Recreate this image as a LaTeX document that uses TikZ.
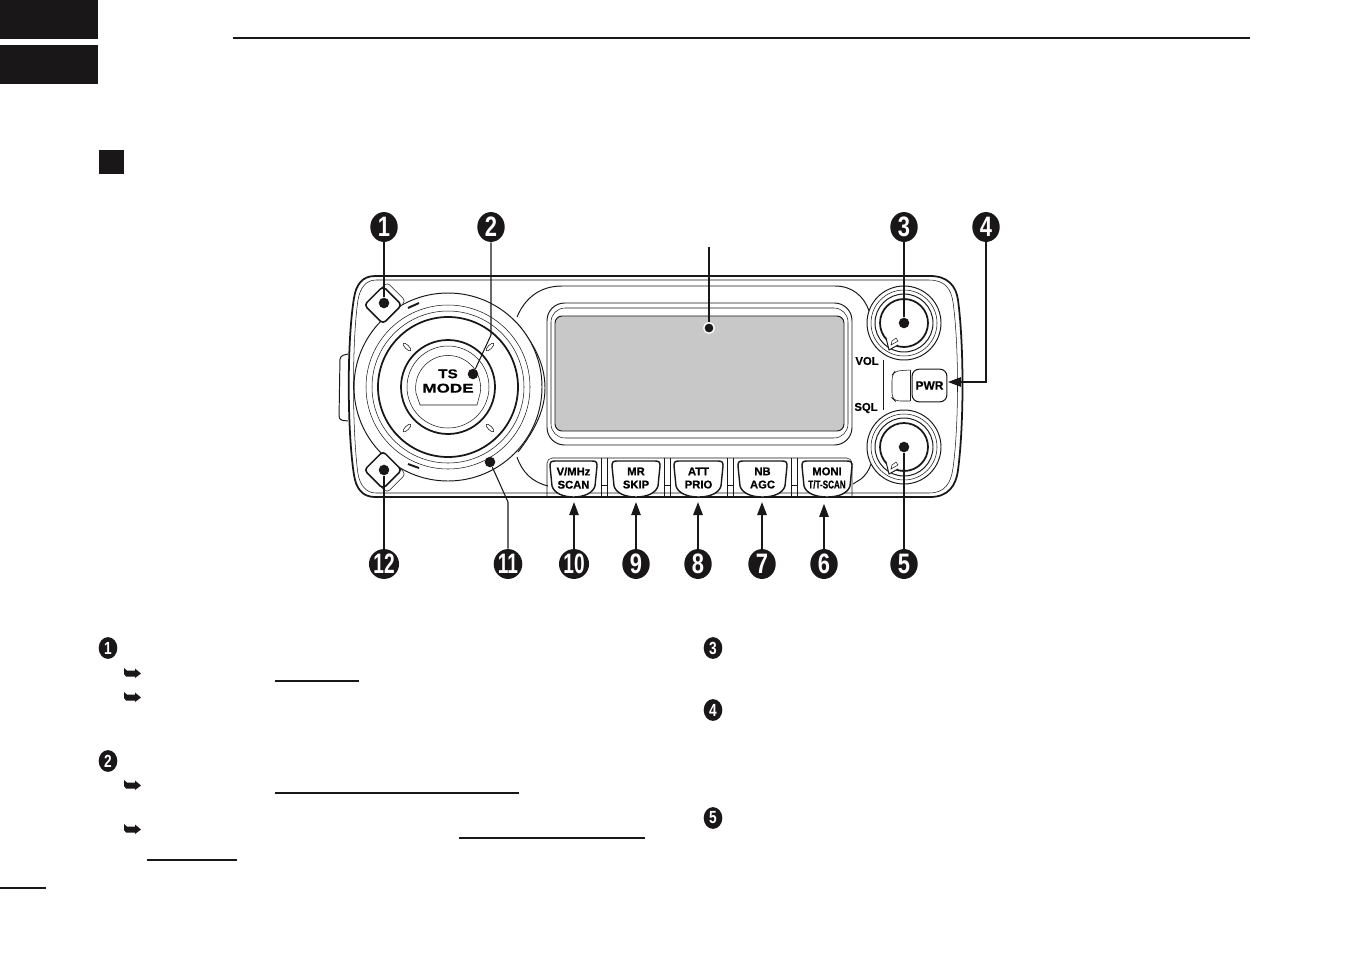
\documentclass[tikz,border=0pt]{standalone}
\usepackage{fontspec}
\setmainfont{Liberation Sans}
\newfontfamily\keyfont[BoldFeatures={FakeBold=.7}]{Liberation Sans}
\usetikzlibrary{arrows.meta, shapes.geometric}

\definecolor{lcdgray}{HTML}{C8C8C8}
\definecolor{inkblack}{HTML}{1A1718}

\tikzset{
  big/.style={ellipse, fill=inkblack, text=white, inner sep=0pt, minimum width=15.6pt, minimum height=17pt, font=\bfseries\fontsize{16}{16}\selectfont},
  small/.style={ellipse, fill=inkblack, text=white, inner sep=0pt, minimum width=10.6pt, minimum height=12.4pt, font=\bfseries\fontsize{10}{10}\selectfont},
  dot/.style={circle, fill=inkblack, inner sep=0pt, minimum size=6pt},
  keytext/.style={inner sep=0pt, align=center, minimum width=26pt, minimum height=20pt, font=\keyfont\bfseries\fontsize{6.4}{7.5}\selectfont},
  thinline/.style={draw=inkblack, line width=.3pt},
  midline/.style={draw=inkblack, line width=.55pt},
  heavyline/.style={draw=inkblack, line width=1pt},
  lead/.style={draw=inkblack, line width=.9pt},
  leadthin/.style={draw=inkblack, line width=.6pt},
  tip/.style={-{Triangle[length=7.4pt,width=5.4pt]}},
  tick/.style={ellipse, draw=inkblack, line width=.3pt, fill=white, inner sep=0pt, minimum width=6pt, minimum height=2.2pt},
  rule/.style={draw=inkblack, line width=.75pt},
  cornerkey/.style={draw=inkblack, line width=.9pt, fill=white, rotate=45, rounded corners=2pt, minimum size=15pt, inner sep=0pt},
  cornerback/.style={draw=inkblack, line width=.3pt, fill=white, rotate=45, rounded corners=2pt, minimum size=15pt, inner sep=0pt}
}

\newcommand{\num}[1]{\scalebox{.78}[1]{#1}}
\newcommand{\numtwo}[1]{\scalebox{.68}[1]{#1}}
\newcommand{\keycap}[2]{
  \draw[draw=inkblack, line width=.8pt, fill=white] (#1+1,466) .. controls (#1+1,462) and (#1+2,461) .. (#1+6,461) -- (#2-6,461)
    .. controls (#2-2,461) and (#2-1,462) .. (#2-1,466) -- (#2-3,486)
    .. controls (#2-5,493) and (#2-14,497) .. (#1/2+#2/2,497)
    .. controls (#1+14,497) and (#1+5,493) .. (#1+3,486) -- cycle;
}
\newcommand{\handmark}[2]{
  \fill[inkblack] (#1,#2-5) -- (#1+3,#2-2.5) -- (#1+11,#2-2.5) -- (#1+11,#2-4.5) -- (#1+17,#2+.5) -- (#1+11,#2+5) -- (#1+11,#2+3.5) -- (#1+2,#2+3.5) -- (#1,#2+1) -- cycle;
}

\begin{document}
\begin{tikzpicture}[x=0.02cm, y=-0.02cm]
\useasboundingbox (0,0) rectangle (1352,954);

% page furniture
\fill[inkblack] (0,0) rectangle (98,39);
\fill[inkblack] (0,45) rectangle (98,84);
\fill[inkblack] (99,150) rectangle (124,174);
\draw[inkblack, line width=1.6pt] (233,38) -- (1250,38);
\draw[rule] (0,888) -- (46,888);

% body
\draw[heavyline] (375,276) -- (930,276) .. controls (948,276) and (956,286) .. (958,300)
  .. controls (964,345) and (964,425) .. (958,470) .. controls (956,486) and (948,497) .. (930,497) -- (375,497)
  .. controls (362,497) and (356,488) .. (354,475) .. controls (347,430) and (347,340) .. (354,298)
  .. controls (356,285) and (362,276) .. (375,276);
\draw[thinline] (376,280) -- (929,280) .. controls (945,280) and (951,289) .. (953,302)
  .. controls (959,345) and (959,425) .. (953,468) .. controls (951,483) and (945,493) .. (929,493) -- (376,493)
  .. controls (366,493) and (360,485) .. (358,474) .. controls (352,430) and (352,340) .. (358,300)
  .. controls (360,288) and (366,280) .. (376,280);
\draw[midline, rounded corners=2pt] (348,354) -- (340,356) -- (339,420) -- (348,421);

% bezel round the display
\draw[midline] (517,317) .. controls (525,298) and (540,286) .. (562,286) -- (835,286) .. controls (852,286) and (864,296) .. (869,311);
\draw[midline] (517,457) .. controls (522,472) and (532,482) .. (548,486);
\draw[midline, rounded corners=10pt] (547,303) rectangle (852,445);
\draw[thinline, rounded corners=8pt] (551,308) rectangle (848,438);
\draw[midline, fill=lcdgray, rounded corners=4pt] (555,316) rectangle (844,431);

% key strip
\draw[thinline, rounded corners=3pt] (547,497) -- (547,458) -- (852,458) -- (852,497);
\draw[thinline] (601,458) -- (601,497);
\draw[thinline] (607,458) -- (607,497);
\draw[thinline] (601,485) -- (607,485);
\draw[thinline] (664,458) -- (664,497);
\draw[thinline] (670,458) -- (670,497);
\draw[thinline] (664,485) -- (670,485);
\draw[thinline] (727,458) -- (727,497);
\draw[thinline] (733,458) -- (733,497);
\draw[thinline] (727,485) -- (733,485);
\draw[thinline] (791,458) -- (791,497);
\draw[thinline] (797,458) -- (797,497);
\draw[thinline] (791,485) -- (797,485);
\keycap{549}{598}
\keycap{611}{661}
\keycap{673}{724}
\keycap{737}{788}
\keycap{801}{853}
\draw[midline] (853,484) -- (861,479) .. controls (866,475) and (869,470) .. (871,464);

\node[keytext] (K1) at (573.5,478) {V/MHz\\SCAN};
\node[keytext] (K2) at (636,478) {MR\\SKIP};
\node[keytext] (K3) at (698.5,478) {ATT\\PRIO};
\node[keytext] (K4) at (762.5,478) {NB\\AGC};
\node[keytext] (K5) at (827,478) {MONI\\\scalebox{.72}[1]{T/T-SCAN}};

% big dial
\draw[midline] (517,323) .. controls (535,345) and (545,365) .. (545,388) .. controls (545,410) and (535,430) .. (518,452);
\draw[midline, fill=white] (448,387) circle (94);
\draw[thinline] (448,387) circle (82);
\draw[thinline] (448,387) circle (76);
\draw[heavyline] (448,387) circle (70);
\draw[heavyline] (448,387) circle (47);
\draw[thinline] (448,387) circle (41);
\draw[thinline] (420,405) -- (416,393) arc[start angle=171, end angle=369, radius=32.5] -- (477,405) -- cycle;
\node[tick, rotate=-45] at (407,347) {};
\node[tick, rotate=45] at (490,347) {};
\node[tick, rotate=45] at (407,428) {};
\node[tick, rotate=-45] at (490,428) {};
\draw[inkblack, line width=1.1pt] (408,308) -- (419,303);
\draw[inkblack, line width=1.1pt] (408,464) -- (419,468);
\node[inner sep=0pt, align=center, font=\keyfont\bfseries\fontsize{7.2}{8.2}\selectfont] (TS) at (448,381) {\scalebox{1.2}[1]{TS}\\\scalebox{1.35}[1]{MODE}};

% diamond keys
\node[cornerback] at (387,301) {};
\node[cornerkey] at (383,305) {};
\node[cornerback] at (387,474) {};
\node[cornerkey] at (383,470) {};

% knobs
\draw[midline, fill=white] (904,323) circle (37);
\draw[thinline] (904,323) circle (33);
\draw[midline] (904,323) circle (29);
\draw[heavyline] (904,323) circle (24);
\draw[midline, fill=white] (904,447) circle (37);
\draw[thinline] (904,447) circle (33);
\draw[midline] (904,447) circle (29);
\draw[heavyline] (904,447) circle (24);
\draw[midline, fill=white] (886,338) -- (889,350) -- (898,345);
\draw[thinline] (896,338) -- (898,341) -- (891,345) -- (892,341) -- cycle;
\draw[midline, fill=white] (886,462) -- (889,474) -- (898,469);
\draw[thinline] (896,462) -- (898,465) -- (891,469) -- (892,465) -- cycle;

% power key
\draw[thinline] (883,360) -- (883,410);
\draw[thinline, rounded corners=3pt] (910,370) -- (895,371) -- (892,375) -- (892,398) -- (895,401) -- (910,401);
\draw[thinline] (910,370) -- (910,401);
\node[draw=inkblack, line width=.6pt, rounded corners=4pt, minimum width=19.8pt, minimum height=18.6pt, inner sep=0pt, font=\keyfont\bfseries\fontsize{6.8}{7}\selectfont] (P) at (929.5,385.5) {PWR};
\node[inner sep=0pt, font=\keyfont\bfseries\fontsize{6.4}{7}\selectfont] (VOL) at (867,361) {VOL};
\node[inner sep=0pt, font=\keyfont\bfseries\fontsize{6.4}{7}\selectfont] (SQL) at (866,408) {SQL};

% callouts
\node[big] (N1) at (384,227) {\num{1}};
\node[big] (N2) at (491,227) {\num{2}};
\node[big] (N3) at (904,227) {\num{3}};
\node[big] (N4) at (986,227) {\num{4}};
\node[big] (N5) at (904,564) {\num{5}};
\node[big] (N6) at (824,564) {\num{6}};
\node[big] (N7) at (762,564) {\num{7}};
\node[big] (N8) at (698,564) {\num{8}};
\node[big] (N9) at (636,564) {\num{9}};
\node[big] (N10) at (574,564) {\numtwo{10}};
\node[big] (N11) at (508,564) {\numtwo{11}};
\node[big] (N12) at (384,564) {\numtwo{12}};

\node[dot] (D1) at (384,303) {};
\node[dot] (D2) at (473,374) {};
\node[dot] (D3) at (904,323) {};
\node[dot] (D5) at (904,447) {};
\node[dot] (D11) at (490,462) {};
\node[dot] (D12) at (384,470) {};
\node[dot, draw=white, line width=.8pt] (D13) at (709,328) {};
\coordinate (T13) at (709,247);
\coordinate (B2) at (491,335);
\coordinate (B11) at (508,502);
\coordinate (A4) at (948,382);

\draw[leadthin] (N1) -- (D1);
\draw[leadthin] (N2) -- (B2) -- (D2);
\draw[lead] (N3) -- (D3);
\draw[leadthin, tip] (N4) |- (A4);
\draw[lead] (N5) -- (D5);
\draw[leadthin] (N11) -- (B11) -- (D11);
\draw[leadthin] (N12) -- (D12);
\draw[leadthin] (T13) -- (D13);

\draw[leadthin, tip, shorten >=4.5pt] (N6) -- (N6 |- K5.south);
\draw[lead, tip, shorten >=3.5pt] (N7) -- (N7 |- K4.south);
\draw[lead, tip, shorten >=3.5pt] (N8) -- (N8 |- K3.south);
\draw[leadthin, tip, shorten >=3.5pt] (N9) -- (N9 |- K2.south);
\draw[leadthin, tip, shorten >=3.5pt] (N10) -- (N10 |- K1.south);

% text column marks
\node[small] (S1) at (108,648) {\num{1}};
\node[small] (S2) at (108,761) {\num{2}};
\node[small] (S3) at (713,648) {\num{3}};
\node[small] (S4) at (713,710) {\num{4}};
\node[small] (S5) at (713,818) {\num{5}};
\handmark{124}{673}
\handmark{124}{697}
\handmark{124}{785}
\handmark{124}{829}
\draw[rule] (275,681) -- (359,681);
\draw[rule] (275,793) -- (519,793);
\draw[rule] (459,838) -- (645,838);
\draw[rule] (147,860) -- (237,860);
\end{tikzpicture}
\end{document}
